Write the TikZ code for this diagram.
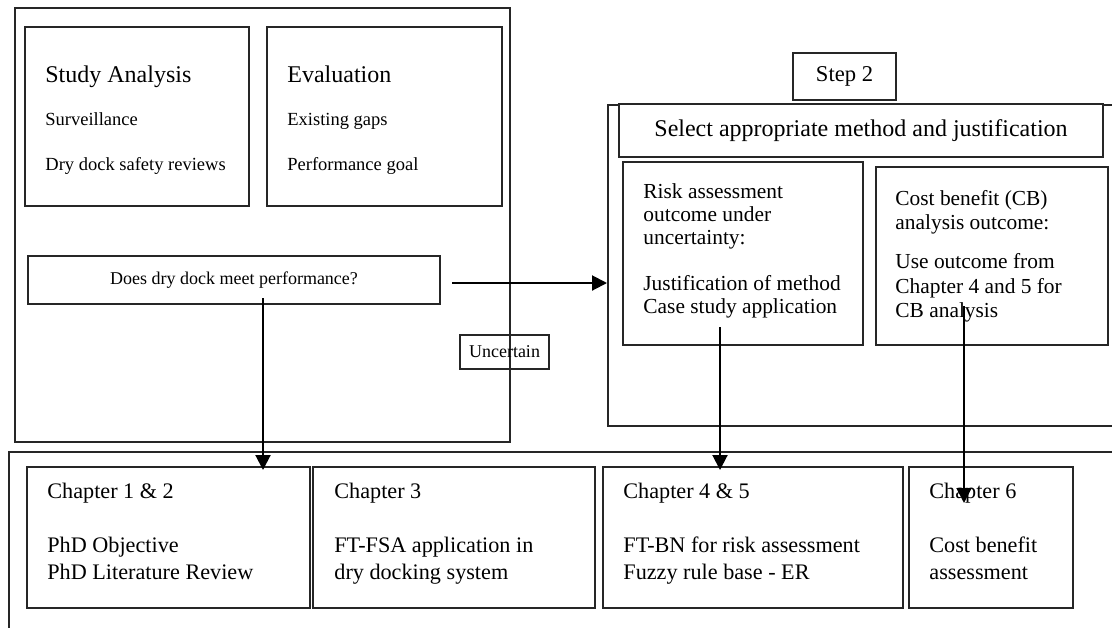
\documentclass[tikz,border=0pt]{standalone}
\usepackage{fontspec}
\setmainfont{Liberation Serif}
\usetikzlibrary{arrows.meta,fit}

% top-aligned block of left-aligned lines; baseline = first line
\newcommand{\linesblock}[2]{\parbox[t]{#1}{\raggedright #2}}

\begin{document}
\begin{tikzpicture}[x=0.5pt,y=-0.5pt,
  box/.style={draw=black!85, line width=0.65pt, inner sep=0pt},
  txt/.style={anchor=base west, inner sep=0pt},
  ctr/.style={inner sep=0pt},
  flow/.style={line width=1pt, -{Triangle[length=7.5pt,width=7.5pt]}},
  ftitle/.style={font=\fontsize{12}{14}\selectfont},
  fitem/.style={font=\fontsize{9.25}{22.5}\selectfont},
  fsmall/.style={font=\fontsize{9}{11}\selectfont},
  fstep/.style={font=\fontsize{11.3}{13}\selectfont},
  frisk/.style={font=\fontsize{10.7}{11.5}\selectfont},
  fcost/.style={font=\fontsize{10.7}{12.25}\selectfont},
  fchap/.style={font=\fontsize{11.1}{13.5}\selectfont}]
\useasboundingbox (0,0) rectangle (1112,627);
\clip (0,0) rectangle (1112,627);

% ---------- step 1 panel ----------
\node[box, fit={(15,8) (510,442)}] (stage1) {};
\node[box, fit={(25,27) (249,206)}] (study) {};
\node[box, fit={(267,27) (502,206)}] (evalbox) {};
\node[txt, ftitle] (studyT) at (45,82) {Study Analysis};
\node[txt, fitem] (studyL) at (45,125) {\linesblock{150pt}{Surveillance\\Dry dock safety reviews}};
\node[txt, ftitle] (evalT) at (287,82) {Evaluation};
\node[txt, fitem] (evalL) at (287,125) {\linesblock{150pt}{Existing gaps\\Performance goal}};

\node[box, fit={(28,256) (440,304)}] (question) {};
\node[ctr, fsmall] (questionT) at (question.center) {Does dry dock meet performance?};

\node[box, fit={(460,335) (549,369)}] (uncertain) {};
\node[ctr, fsmall] (uncertainT) at (uncertain.center) {Uncertain};

% ---------- step 2 panel ----------
\node[box, fit={(608,105) (1130,426)}] (stage2) {};
\node[box, fill=white, fit={(793,53) (896,100)}] (step2) {};
\node[ctr, fstep] (step2T) at (step2.center) {Step 2};
\node[box, fill=white, fit={(619,104) (1103,157)}] (select) {};
\node[ctr, ftitle] (selectT) at (select.center) {Select appropriate method and justification};

\node[box, fit={(623,162) (863,345)}] (risk) {};
\node[txt, frisk] (riskT) at (643,198) {\linesblock{150pt}{Risk assessment\\outcome under\\uncertainty:\\[11.5pt]Justification of method\\Case study application}};

\node[box, fit={(876,167) (1108,345)}] (cost) {};
\node[txt, fcost] (costT) at (895,205) {\linesblock{150pt}{Cost benefit (CB)\\analysis outcome:\\[7.25pt]Use outcome from\\Chapter 4 and 5 for\\CB analysis}};

% ---------- thesis chapters ----------
\node[box, fit={(9,452) (1130,640)}] (thesis) {};
\node[box, fit={(27,467) (310,608)}] (ch12) {};
\node[box, fit={(313,467) (595,608)}] (ch3) {};
\node[box, fit={(603,467) (903,608)}] (ch45) {};
\node[box, fit={(909,467) (1073,608)}] (ch6) {};
\node[txt, fchap] (ch12T) at (47,498) {\linesblock{160pt}{Chapter 1 \& 2\\[13.5pt]PhD Objective\\PhD Literature Review}};
\node[txt, fchap] (ch3T) at (334,498) {\linesblock{160pt}{Chapter 3\\[13.5pt]FT-FSA application in\\dry docking system}};
\node[txt, fchap] (ch45T) at (623,498) {\linesblock{160pt}{Chapter 4 \& 5\\[13.5pt]FT-BN for risk assessment\\Fuzzy rule base - ER}};
\node[txt, fchap] (ch6T) at (929,498) {\linesblock{160pt}{Chapter 6\\[13.5pt]Cost benefit\\assessment}};

% ---------- connectors ----------
\coordinate (qOut) at (263,298);
\coordinate (ch12In) at (263,470);
\coordinate (qRight) at (452,283);
\coordinate (stage2In) at (607,283);
\coordinate (riskOut) at (720,327);
\coordinate (ch45In) at (720,470);
\coordinate (costOut) at (964,306);
\coordinate (ch6In) at (964,503);

\draw[flow] (qOut) -- (ch12In);
\draw[flow] (qRight) -- (stage2In);
\draw[flow] (riskOut) -- (ch45In);
\draw[flow] (costOut) -- (ch6In);
\end{tikzpicture}
\end{document}
